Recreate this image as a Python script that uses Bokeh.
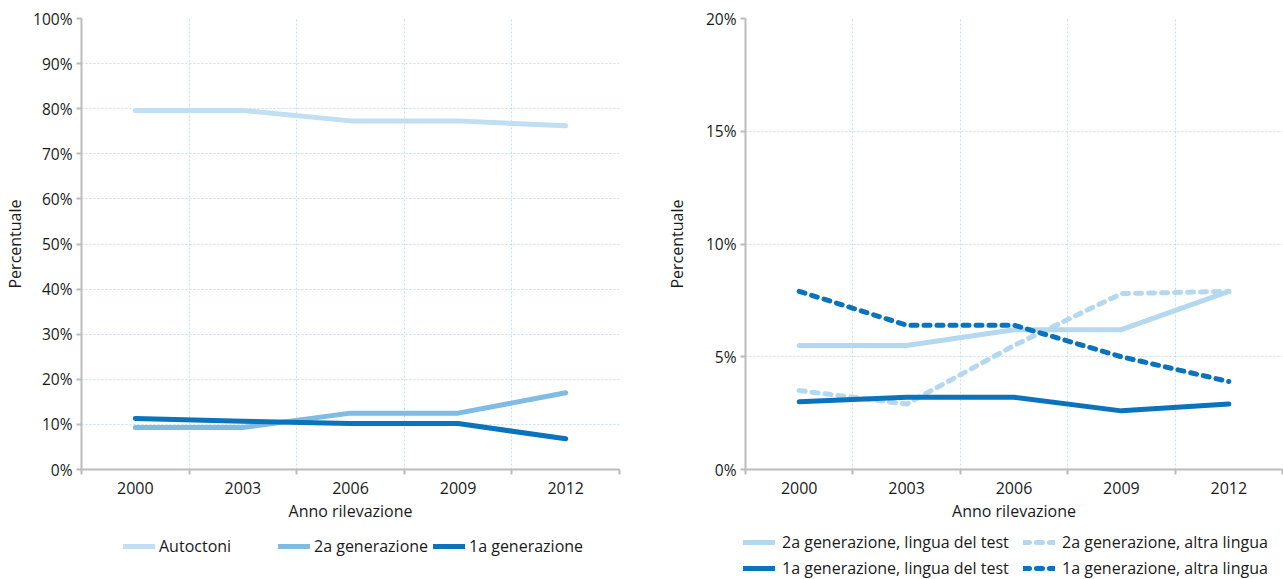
from bokeh.plotting import figure
from bokeh.layouts import row, column
from bokeh.models import Range1d, FixedTicker, PrintfTickFormatter, Legend, LegendItem
from bokeh.embed import file_html
from bokeh.resources import INLINE

years = [2000, 2003, 2006, 2009, 2012]

# Left chart
autoctoni = [79.6, 79.6, 77.3, 77.3, 76.2]
gen2 = [9.3, 9.3, 12.5, 12.5, 17.0]
gen1 = [11.3, 10.7, 10.2, 10.2, 6.8]

# Right chart
gen2_test = [5.5, 5.5, 6.2, 6.2, 7.9]
gen2_altra = [3.5, 2.9, 5.5, 7.8, 7.9]
gen1_test = [3.0, 3.2, 3.2, 2.6, 2.9]
gen1_altra = [7.9, 6.4, 6.4, 5.0, 3.9]

left_labels = ["Autoctoni", "2a generazione", "1a generazione"]
right_labels = ["2a generazione, lingua del test", "2a generazione, altra lingua",
                "1a generazione, lingua del test", "1a generazione, altra lingua"]

LIGHT = "#c0dff3"
LIGHT2 = "#b3d8f0"
MED = "#7fbbe3"
DARK = "#0a73bb"
GRID = "#c5dff1"
AXIS = "#bcbcbc"
TXT = "#1a1a1a"
FONT = "Open Sans"
DASH = "6 7"

left_styles = [dict(line_color=LIGHT), dict(line_color=MED), dict(line_color=DARK)]
right_styles = [dict(line_color=LIGHT2), dict(line_color=LIGHT2, line_dash=DASH),
                dict(line_color=DARK), dict(line_color=DARK, line_dash=DASH)]
left_series = [autoctoni, gen2, gen1]
right_series = [gen2_test, gen2_altra, gen1_test, gen1_altra]

half = (years[1] - years[0]) / 2
bounds = [y - half for y in years] + [years[-1] + half]

MAIN_H = 530
LEG_H = 579 - MAIN_H


def make_fig(width, ymax, ystep, min_left, min_right, label_standoff):
    p = figure(width=width, height=MAIN_H, output_backend="svg", toolbar_location=None,
               x_range=Range1d(bounds[0], bounds[-1]), y_range=Range1d(0, ymax),
               min_border_left=min_left, min_border_right=min_right,
               min_border_top=18, min_border_bottom=MAIN_H - 469)
    p.outline_line_color = None
    p.background_fill_color = None
    p.border_fill_color = None
    xa = p.xaxis[0]
    xa.ticker = FixedTicker(ticks=years, minor_ticks=bounds)
    xa.major_tick_line_color = None
    xa.major_tick_out = 5
    xa.major_tick_in = 0
    xa.minor_tick_out = 5
    xa.minor_tick_in = 0
    xa.minor_tick_line_color = AXIS
    xa.minor_tick_line_width = 2
    xa.axis_line_color = AXIS
    xa.axis_line_width = 2
    xa.major_label_standoff = 7
    xa.major_label_text_font_size = "16px"
    xa.axis_label = "Anno rilevazione"
    xa.axis_label_standoff = 3
    ya = p.yaxis[0]
    ya.ticker = FixedTicker(ticks=list(range(0, ymax + 1, ystep)))
    ya.formatter = PrintfTickFormatter(format="%d%%")
    ya.major_tick_out = 5
    ya.major_tick_in = 0
    ya.minor_tick_line_color = None
    ya.major_tick_line_color = AXIS
    ya.major_tick_line_width = 2
    ya.axis_line_color = AXIS
    ya.axis_line_width = 2
    ya.major_label_standoff = 4
    ya.major_label_text_font_size = "15.5px"
    ya.axis_label = "Percentuale"
    ya.axis_label_standoff = label_standoff
    for ax in (xa, ya):
        ax.major_label_text_font = FONT
        ax.major_label_text_color = TXT
        ax.axis_label_text_font = FONT
        ax.axis_label_text_font_size = "16px"
        ax.axis_label_text_font_style = "normal"
        ax.axis_label_text_color = TXT
    p.xgrid.ticker = FixedTicker(ticks=bounds)
    for g in (p.xgrid, p.ygrid):
        g.grid_line_color = GRID
        g.grid_line_dash = "2 2"
        g.grid_line_width = 1
    return p


def legend_fig(width, series, styles, labels, **legend_kw):
    # a strip below the chart that only carries the legend (its lines sit outside the view)
    q = figure(width=width, height=LEG_H, output_backend="svg", toolbar_location=None,
               x_axis_type=None, y_axis_type=None, x_range=Range1d(0, 1), y_range=Range1d(0, 1),
               min_border=0)
    q.outline_line_color = None
    q.background_fill_color = None
    q.border_fill_color = None
    rs = [q.line(years, s, line_width=5, line_cap="round", line_join="round", **st)
          for s, st in zip(series, styles)]
    leg = Legend(items=[LegendItem(label=l, renderers=[r]) for l, r in zip(labels, rs)],
                 orientation="horizontal", glyph_width=32, glyph_height=20,
                 padding=0, margin=0, border_line_color=None, background_fill_color=None,
                 label_text_font=FONT, label_text_font_size="16px", label_text_color=TXT,
                 **legend_kw)
    q.add_layout(leg)
    return q


p1 = make_fig(640, 100, 10, 81, 21, 4)
for s, st in zip(left_series, left_styles):
    p1.line(years, s, line_width=5, line_cap="round", line_join="round", **st)

p2 = make_fig(643, 20, 5, 105, 1, 15)
for s, st in zip(right_series, right_styles):
    p2.line(years, s, line_width=5, line_cap="round", line_join="round", **st)

l1 = legend_fig(640, left_series, left_styles, left_labels,
                label_standoff=4, label_width=115, spacing=4, location=(123, LEG_H - 7 - 20))
l2 = legend_fig(643, right_series, right_styles, right_labels, ncols=2,
                label_standoff=7, label_width=237, spacing=4, location=(103, 0))

layout = column(row(p1, p2, spacing=0), row(l1, l2, spacing=0), spacing=0)
open("out.html", "w").write(file_html(layout, INLINE))
